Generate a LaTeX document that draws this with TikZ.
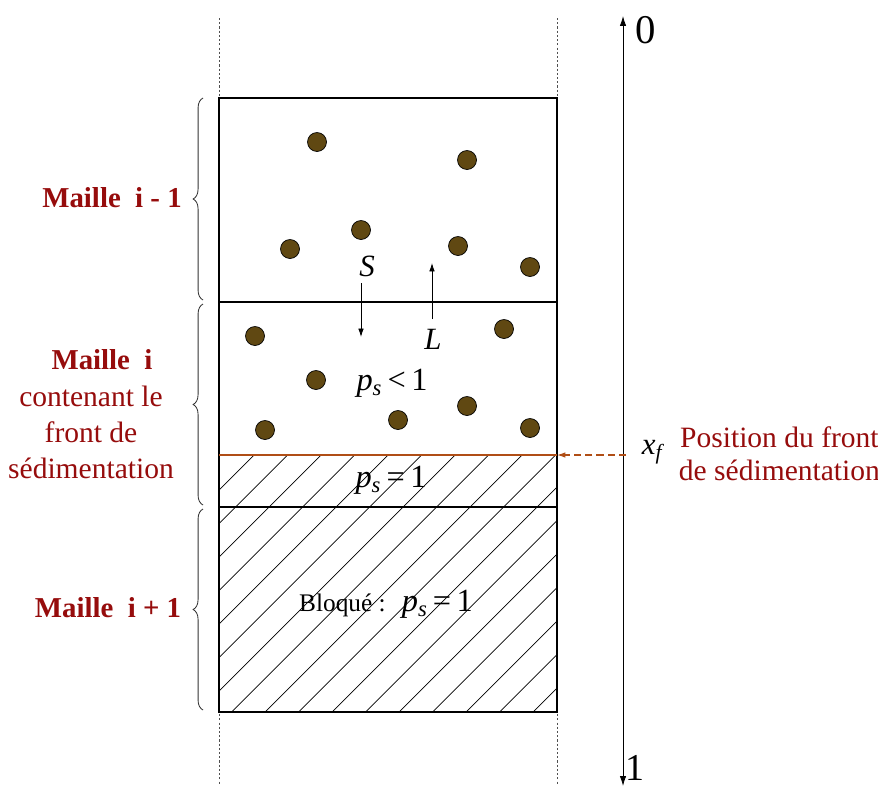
\documentclass[tikz,border=0pt]{standalone}
\usepackage{fontspec}
\setmainfont{Liberation Serif}
\usetikzlibrary{
    arrows.meta,
    decorations.pathreplacing,
    positioning
}
\definecolor{ink}{RGB}{0,0,0}
\definecolor{grain}{RGB}{96,72,18}
\definecolor{frontline}{RGB}{176,78,22}
\definecolor{maille}{RGB}{150,12,12}
\definecolor{guideline}{RGB}{80,80,80}
\tikzset{
    line cap=butt,
    cell/.style={draw=ink, line width=1.4pt},
    guide/.style={draw=guideline, dash pattern=on 1.5pt off 1.5pt, line width=0.5pt},
    hatch/.style={draw=ink, line width=0.5pt},
    particle/.style={
        circle,
        draw=ink,
        fill=grain,
        line width=0.5pt,
        minimum size=13.5pt,
        inner sep=0pt
    },
    flux/.style={
        -{Latex[length=6pt, width=4pt]},
        draw=ink,
        line width=0.6pt
    },
    axisline/.style={
        {Latex[length=7pt, width=4.5pt]}-{Latex[length=7pt, width=4.5pt]},
        draw=ink,
        line width=0.6pt
    },
    frontarrow/.style={
        -{Latex[length=6pt, width=4pt]},
        draw=frontline,
        dash pattern=on 5pt off 3pt,
        line width=0.8pt
    },
    bracket/.style={
        draw=ink!80,
        line width=0.6pt,
        decorate,
        decoration={brace, amplitude=7pt}
    },
    maillebold/.style={
        font=\fontsize{20.5}{24}\selectfont\bfseries,
        text=maille
    },
    mailletext/.style={
        font=\fontsize{21}{25.5}\selectfont,
        text=maille,
        align=center
    },
    varlabel/.style={
        font=\fontsize{22}{26}\selectfont\itshape,
        text=ink
    },
    eqlabel/.style={
        font=\fontsize{23}{26}\selectfont,
        text=ink
    }
}

\begin{document}
\begin{tikzpicture}[x=0.025cm, y=-0.025cm]
\useasboundingbox (0,0) rectangle (878,789);

% Guide lines (dotted)
\coordinate (gl-top) at (219,18);
\coordinate (gl-bot) at (219,785);
\coordinate (gr-top) at (557,18);
\coordinate (gr-bot) at (557,785);
\draw[guide] (gl-top) -- (gl-bot);
\draw[guide] (gr-top) -- (gr-bot);

% Hatched (blocked) zone
\begin{scope}
    \clip (219,455) rectangle (557,712);
    \foreach \k in {-1,...,17} {
        \draw[hatch] ({254+33.5*\k},455) -- ++(-320,320);
    }
\end{scope}

% Cells
\coordinate (top-w) at (219,98);
\coordinate (top-e) at (557,98);
\coordinate (mid1-w) at (219,302);
\coordinate (mid1-e) at (557,302);
\coordinate (front-w) at (219,455);
\coordinate (front-e) at (557,455);
\coordinate (mid2-w) at (219,507);
\coordinate (mid2-e) at (557,507);
\coordinate (bot-w) at (219,712);
\coordinate (bot-e) at (557,712);
\draw[cell] (top-w) rectangle (bot-e);
\draw[cell] (mid1-w) -- (mid1-e);
\draw[cell] (mid2-w) -- (mid2-e);
\draw[draw=frontline, line width=1pt] (front-w) -- (front-e);

% Particles
\foreach \p [count=\i] in {(317,142),(467,160),(361,230),(290,249),(458,246),
    (530,267),(255,336),(504,329),(316,380),(467,406),(398,420),(265,430),(530,428)} {
    \node[particle] (g\i) at \p {};
}

% Fluxes S and L
\node[varlabel] (S) at (367,266) {S};
\node[varlabel] (L) at (433,339) {L};
\coordinate (S-tail) at (361,283);
\coordinate (S-head) at (361,337);
\coordinate (L-tail) at (432,319);
\coordinate (L-head) at (432,263);
\draw[flux] (S-tail) -- (S-head);
\draw[flux] (L-tail) -- (L-head);

% Volume fractions
\node[eqlabel] (ps-lt) at (392,383) {\textit{p}\textsubscript{\textit{s}}\,<\,1};
\node[eqlabel] (ps-eq) at (391,480) {\textit{p}\textsubscript{\textit{s}}\,=\,1};
\node[eqlabel] (blocked) at (386,604)
    {{\fontsize{18}{20}\selectfont Bloqué :}\ \ \textit{p}\textsubscript{\textit{s}}\,=\,1};

% Braces
\coordinate (b1-s) at (203,300);
\coordinate (b1-e) at (203,98);
\coordinate (b2-s) at (203,505);
\coordinate (b2-e) at (203,304);
\coordinate (b3-s) at (203,710);
\coordinate (b3-e) at (203,509);
\draw[bracket] (b1-s) -- (b1-e);
\draw[bracket] (b2-s) -- (b2-e);
\draw[bracket] (b3-s) -- (b3-e);

% Cell labels
\node[maillebold] (m-prev) at (112,198) {Maille\ \ i - 1};
\node[maillebold] (m-cur) at (102,360) {Maille\ \ i};
\node[mailletext, anchor=north] (m-cur-txt) at (91,381)
    {contenant le\\front de\\sédimentation};
\node[maillebold] (m-next) at (108,608) {Maille\ \ i + 1};

% Depth axis
\coordinate (ax-top) at (623,16);
\coordinate (ax-bot) at (623,786);
\draw[axisline] (ax-bot) -- (ax-top);
\node[font=\fontsize{29}{30}\selectfont] (ax-zero) at (646,30) {0};
\node[font=\fontsize{27}{28}\selectfont] (ax-one) at (635,768) {1};

% Sedimentation front
\node[varlabel] (xf) at (652,452) {x\textsubscript{\textit{f}}};
\coordinate (front-tail) at (626,455);
\draw[frontarrow] (front-tail) -- (front-e);
\node[mailletext, anchor=west, font=\fontsize{21}{23.5}\selectfont] (front-txt) at (674,454)
    {Position du front\\de sédimentation};
\end{tikzpicture}
\end{document}
